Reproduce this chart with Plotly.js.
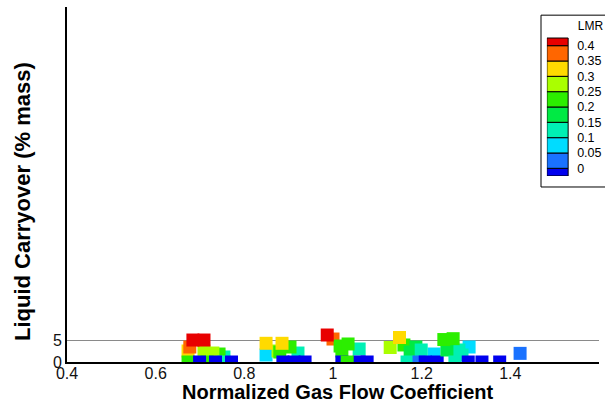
<!DOCTYPE html>
<html>
<head>
<meta charset="utf-8">
<script src="https://cdn.plot.ly/plotly-3.0.1.min.js"></script>
<style>html,body{margin:0;padding:0;background:#fff;}#chart{width:605px;height:404px;}</style>
</head>
<body>
<div id="chart"></div>
<script>
// Normalized gas flow coefficient (x), liquid carryover % mass (y), LMR (colour)
const gasFlow = [
  0.673, 0.677, 0.754, 0.743, 0.729, 0.709, 0.684, 0.709, 0.673, 0.716, 0.754, 0.699, 0.735, 0.771,
  0.849, 0.921, 0.903, 0.876, 0.880, 0.849, 0.885, 0.887, 0.912, 0.937,
  1.000, 1.059, 1.020, 1.016, 1.034, 0.987, 1.020, 1.059, 1.077, 1.032,
  1.129, 1.160, 1.174, 1.187, 1.228, 1.199, 1.150, 1.167, 1.194, 1.208, 1.235,
  1.307, 1.284, 1.291, 1.257, 1.250, 1.271, 1.275, 1.305, 1.336, 1.376,
  1.422
];
const carryover = [
  2.55, 3.47, 1.16, 1.85, 2.08, 2.55, 5.09, 5.09, 0, 0, 0, 0, 0, 0,
  1.62, 2.08, 3.47, 2.55, 2.31, 4.33, 4.33, 0, 0, 0,
  5.32, 3.01, 2.55, 3.70, 4.17, 6.25, 0, 0, 0, 0,
  3.36, 3.94, 2.31, 3.47, 1.85, 2.78, 5.67, 0, 0, 0, 0,
  3.47, 2.78, 1.62, 2.78, 5.2, 5.4, 0, 0, 0, 0,
  2.0
];
const lmr = [
  0.325, 0.375, 0.125, 0.225, 0.275, 0.275, 0.41, 0.41, 0.225, 0.225, 0.125, 0, 0, 0,
  0.075, 0.125, 0.225, 0.275, 0.225, 0.325, 0.325, 0, 0, 0,
  0.375, 0.125, 0.225, 0.225, 0.225, 0.41, 0, 0, 0, 0.225,
  0.275, 0.225, 0.175, 0.175, 0.075, 0.125, 0.325, 0.125, 0.025, 0, 0,
  0.075, 0.125, 0.125, 0.175, 0.225, 0.225, 0.125, 0, 0, 0,
  0.025
];

// Contour-style legend levels and band colours (below 0 ... above 0.4)
const levels = [0, 0.05, 0.1, 0.15, 0.2, 0.25, 0.3, 0.35, 0.4];
const levelLabels = ['0', '0.05', '0.1', '0.15', '0.2', '0.25', '0.3', '0.35', '0.4'];
const bandColors = ['#0000ee', '#1a72ff', '#00dcff', '#00f0b4', '#00ea44', '#2cee00',
                    '#aaff00', '#ffda00', '#ff6600', '#e80000'];

const xTicks = [0.4, 0.6, 0.8, 1.0, 1.2, 1.4, 1.6];
const xTickText = ['0.4', '0.6', '0.8', '1', '1.2', '1.4', '1.6'];
const yTicks = [0, 5];
const yTickText = ['0', '5'];

const xTitle = 'Normalized Gas Flow Coefficient';
const yTitle = 'Liquid Carryover (% mass)';
const legendTitle = 'LMR';

function colorOf(v) {
  let i = 0;
  while (i < levels.length && v > levels[i]) i++;
  return bandColors[i];
}

const FONT = 'Arial, "Liberation Sans", Helvetica, sans-serif';

const pts = {
  type: 'scatter', mode: 'markers',
  x: gasFlow, y: carryover,
  marker: { symbol: 'square', size: 13, color: lmr.map(colorOf), line: { width: 0 } },
  cliponaxis: true, hoverinfo: 'x+y', xaxis: 'x', yaxis: 'y'
};

// legend bars: half band below 0, full bands, half band above 0.4
const half = (levels[1] - levels[0]) / 2;
const barBase = [levels[0] - half].concat(levels);
const barHeight = barBase.map((b, i) => (i === 0 || i === barBase.length - 1) ? half : levels[i] - levels[i - 1]);
const legendBars = {
  type: 'bar', x: barBase.map(() => 0), y: barHeight, base: barBase, width: 1,
  marker: { color: bandColors, line: { color: '#000', width: 1 } },
  xaxis: 'x2', yaxis: 'y2', hoverinfo: 'skip'
};

// legend title placed in the legend's own axes
const legendHead = {
  type: 'scatter', mode: 'text', x: [0.95], y: [0.4605],
  text: [legendTitle], textposition: 'middle right',
  textfont: { size: 12, family: FONT, color: '#000' },
  cliponaxis: false, xaxis: 'x2', yaxis: 'y2', hoverinfo: 'skip'
};

const layout = {
  width: 605, height: 404,
  margin: { l: 67, r: 6, t: 7, b: 42 },
  paper_bgcolor: '#fff', plot_bgcolor: 'rgba(0,0,0,0)',
  showlegend: false,
  font: { family: FONT, color: '#000' },
  xaxis: {
    range: [0.4, 1.6], tickvals: xTicks, ticktext: xTickText,
    showline: true, linecolor: '#000', linewidth: 2, ticks: '', showgrid: false, zeroline: false,
    ticklabelstandoff: -4,
    tickfont: { size: 16, family: FONT, color: '#111' }
  },
  yaxis: {
    range: [0, 82.2], tickvals: yTicks, ticktext: yTickText,
    showline: true, linecolor: '#000', linewidth: 2, ticks: '', zeroline: false,
    showgrid: true, gridcolor: '#8a8a8a', gridwidth: 1,
    tickfont: { size: 16, family: FONT, color: '#111' }
  },
  xaxis2: { domain: [0.902, 0.982], range: [-0.5, 1.5], anchor: 'y2', visible: false, fixedrange: true },
  yaxis2: {
    domain: [0.524, 0.9515], range: [levels[0] - half, 0.47], anchor: 'free', position: 0.942, side: 'right',
    tickvals: levels, ticktext: levelLabels, showgrid: false, zeroline: false, showline: false, ticks: '',
    ticklabelstandoff: 8, tickfont: { size: 12.5, family: FONT, color: '#000' }, fixedrange: true
  },
  shapes: [{
    type: 'rect', xref: 'paper', yref: 'paper', x0: 0.891, x1: 1.03, y0: 0.493, y1: 0.977,
    line: { color: '#000', width: 1 }, fillcolor: 'rgba(0,0,0,0)', layer: 'above'
  }],
  annotations: [
    {
      text: xTitle, xref: 'paper', yref: 'paper', x: 0.5085, y: -0.0845, xanchor: 'center', yanchor: 'middle',
      showarrow: false, font: { size: 20, family: FONT, weight: 'bold', color: '#000' }
    },
    {
      text: yTitle, xref: 'paper', yref: 'paper', x: -0.0846, y: 0.4535, xanchor: 'center', yanchor: 'middle',
      textangle: -90, showarrow: false, font: { size: 22, family: FONT, weight: 'bold', color: '#000' }
    }
  ]
};

Plotly.newPlot('chart', [pts, legendBars, legendHead], layout, { displayModeBar: false, staticPlot: true });
</script>
</body>
</html>
